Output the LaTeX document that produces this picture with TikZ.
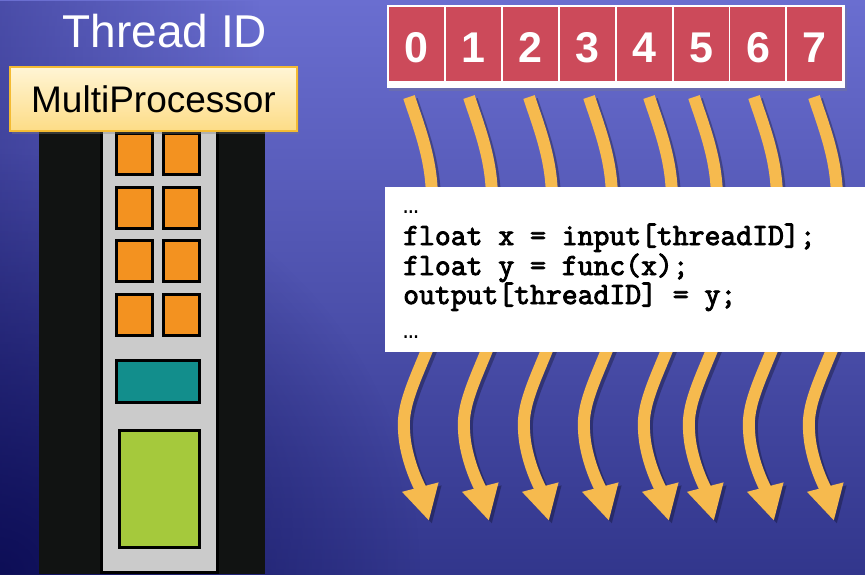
\documentclass[tikz,border=0pt]{standalone}
\usepackage{fontspec}
\setmainfont{Liberation Sans}
\newfontfamily\codefont[FakeBold=3]{Latin Modern Mono}
\newfontfamily\dotsfont{Liberation Mono}
\usetikzlibrary{arrows.meta,shadows,fadings}

\definecolor{bgtop}{HTML}{6A6ED0}
\definecolor{bgbot}{HTML}{32368C}
\definecolor{bgdark}{HTML}{101060}
\definecolor{bgdeep}{HTML}{05054A}
\definecolor{panelblack}{HTML}{111312}
\definecolor{panelgray}{HTML}{CBCBCB}
\definecolor{coreorange}{HTML}{F39220}
\definecolor{memteal}{HTML}{128E8C}
\definecolor{cachegreen}{HTML}{A5C93C}
\definecolor{cellred}{HTML}{CC4A5A}
\definecolor{flowyellow}{HTML}{F6BA4E}
\definecolor{mpfilltop}{HTML}{FFF5D5}
\definecolor{mpfillbot}{HTML}{FDDC86}
\definecolor{mpborder}{HTML}{F4BB33}

\tikzfading[name=cornerglow, inner color=transparent!0, outer color=transparent!100]

\tikzset{
  core/.style={draw=black, line width=3pt, fill=coreorange,
    minimum width=36pt, minimum height=41pt, inner sep=0pt},
  unitbox/.style={draw=black, line width=3pt, inner sep=0pt},
  idcell/.style={fill=cellred, minimum width=55pt, minimum height=74pt,
    inner sep=0pt, text=white, text height=37pt, text depth=0pt,
    font=\bfseries\fontsize{43}{43}\selectfont},
  codeline/.style={anchor=base west, inner sep=0pt,
    font=\codefont\fontsize{30.8}{30}\selectfont},
  codedots/.style={anchor=base west, inner sep=0pt,
    font=\dotsfont\fontsize{26}{26}\selectfont},
  flow/.style={line width=12pt, line cap=butt},
  flowtip/.style={-{Triangle[width=35pt,length=35pt]}}
}

\begin{document}
\begin{tikzpicture}[x=1pt,y=-1pt]
  % background
  \useasboundingbox (0,0) rectangle (865,574);
  \shade[top color=bgtop, bottom color=bgbot] (0,0) rectangle (865,574);
  \fill[bgdark, opacity=0.35, path fading=east] (0,0) rectangle (260,574);
  \begin{scope}
    \clip (0,0) rectangle (865,574);
    \fill[bgdeep, opacity=0.75, path fading=cornerglow] (0,574) circle (420);
  \end{scope}

  % multiprocessor column
  \fill[panelblack] (39,125) rectangle (265,574);
  \filldraw[fill=panelgray, draw=black, line width=3pt] (101.5,120) rectangle (217,572.5);
  \foreach \y [count=\r] in {154,208,261,315} {
    \node[core] (coreL\r) at (134.5,\y) {};
    \node[core] (coreR\r) at (181.5,\y) {};
  }
  \node[unitbox, fill=memteal, minimum width=83pt, minimum height=42pt] (shared) at (158,381.5) {};
  \node[unitbox, fill=cachegreen, minimum width=80pt, minimum height=117pt] (cache) at (159.5,489) {};

  \node[draw=mpborder, line width=2pt, top color=mpfilltop, bottom color=mpfillbot,
        minimum width=287pt, minimum height=64pt, inner sep=0pt,
        drop shadow={opacity=0.35, shadow xshift=2pt, shadow yshift=-3pt},
        font=\fontsize{37}{37}\selectfont] (mp) at (153.5,99) {MultiProcessor};

  \node[anchor=base, text=white, inner sep=0pt, font=\fontsize{46}{46}\selectfont]
    (tidlabel) at (165,47) {Thread ID};

  % thread id row
  \node[fill=white, minimum width=458pt, minimum height=83pt, inner sep=0pt,
        drop shadow={opacity=0.3, shadow xshift=2pt, shadow yshift=-3pt}]
    (idrow) at (616,46.5) {};
  \foreach \n in {0,...,7} {
    \node[idcell] (c\n) at ({416.8+56.86*\n},44.25) {\n};
  }

  % thread flows: shadows first, then the flows
  \def\flowxs{432,492,552,612,672,717,777,837}
  \begin{scope}[transparency group, opacity=0.28, shift={(3,3)}]
    \foreach \X in \flowxs {
      \draw[flow, black] ({\X-23},97) .. controls ({\X-12},130) and (\X,160) .. (\X,200);
      \draw[flow, black, flowtip] ({\X-3},345) .. controls ({\X-17},380) and ({\X-30},405)
        .. ({\X-28},430) .. controls ({\X-27},460) and ({\X-11},490) .. ({\X-3},521);
    }
  \end{scope}
  \foreach \X [count=\i from 0] in \flowxs {
    \coordinate (in\i) at ({\X-23},97);
    \coordinate (mid\i) at (\X,200);
    \coordinate (back\i) at ({\X-3},345);
    \coordinate (out\i) at ({\X-3},521);
    \draw[flow, flowyellow] (in\i) .. controls ({\X-12},130) and (\X,160) .. (mid\i);
    \draw[flow, flowyellow, flowtip] (back\i) .. controls ({\X-17},380) and ({\X-30},405)
      .. ({\X-28},430) .. controls ({\X-27},460) and ({\X-11},490) .. (out\i);
  }

  % kernel code
  \node[fill=white, minimum width=480pt, minimum height=165pt, inner sep=0pt]
    (code) at (625,269.5) {};
  \node[codedots] (l0) at (403,213) {…};
  \node[codeline] (l1) at (403,245) {float x = input[threadID];};
  \node[codeline] (l2) at (403,275) {float y = func(x);};
  \node[codeline] (l3) at (403,304) {output[threadID] = y;};
  \node[codedots] (l4) at (403,338) {…};
\end{tikzpicture}
\end{document}
